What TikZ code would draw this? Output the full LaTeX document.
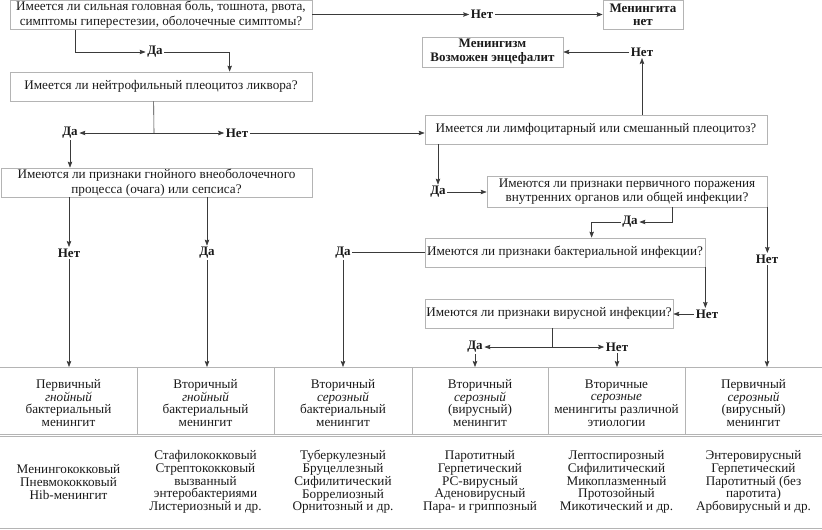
\documentclass[tikz,border=0pt]{standalone}
\usepackage{fontspec}
\setmainfont{Liberation Serif}
\usetikzlibrary{arrows.meta}
\definecolor{boxgray}{HTML}{B4B4B4}
\definecolor{linegray}{HTML}{3A3A3A}
\definecolor{txt}{HTML}{1A1A1A}
\begin{document}
\begin{tikzpicture}[x=1pt,y=-1pt,
  every node/.style={text=txt},
  base/.style={font=\fontsize{13.2}{12.7}\selectfont},
  qbox/.style={base,draw=boxgray,line width=0.7pt,inner sep=0pt,align=center},
  lbl/.style={font=\fontsize{13}{13}\selectfont\bfseries,inner sep=1.5pt},
  cell/.style={base,align=center,inner sep=0pt},
  arr/.style={draw=linegray,line width=0.6pt,-{Stealth[length=6pt,width=4.5pt,inset=1pt]}},
  ln/.style={draw=linegray,line width=0.6pt},
  tl/.style={draw=boxgray,line width=0.7pt}]
\useasboundingbox (0,0) rectangle (822,530);
% boxes
\node[qbox,minimum width=302pt,minimum height=28.5pt,font=\fontsize{13.2}{15}\selectfont] (box1) at (161,15) {Имеется ли сильная головная боль, тошнота, рвота,\\симптомы гиперестезии, оболочечные симптомы?};
\node[qbox,minimum width=80pt,minimum height=28.5pt,font=\fontsize{13}{13.5}\selectfont\bfseries] (mnet) at (643,15) {Менингита\\нет};
\node[qbox,minimum width=302pt,minimum height=29pt] (box2) at (161,86.5) {Имеется ли нейтрофильный плеоцитоз ликвора?};
\node[qbox,minimum width=141pt,minimum height=30pt,font=\fontsize{13}{14}\selectfont\bfseries] (mism) at (492.5,52) {Менингизм\\Возможен энцефалит};
\node[qbox,minimum width=342pt,minimum height=29pt] (lymph) at (596,129.5) {Имеется ли лимфоцитарный или смешанный плеоцитоз?};
\node[qbox,minimum width=311pt,minimum height=29pt,font=\fontsize{13.2}{14.5}\selectfont] (box3) at (156.5,182.5) {Имеются ли признаки гнойного внеоболочечного\\процесса (очага) или сепсиса?};
\node[qbox,minimum width=280pt,minimum height=31pt,font=\fontsize{13.2}{14.5}\selectfont] (prim) at (627,191.5) {Имеются ли признаки первичного поражения\\внутренних органов или общей инфекции?};
\node[qbox,minimum width=280pt,minimum height=29pt] (bact) at (565,252.5) {Имеются ли признаки бактериальной инфекции?};
\node[qbox,minimum width=248pt,minimum height=29pt] (viral) at (549,313.5) {Имеются ли признаки вирусной инфекции?};
% labels
\node[lbl] (netA) at (482,14.5) {Нет};
\node[lbl] (daA) at (155,52) {Да};
\node[lbl] (daB) at (70,133) {Да};
\node[lbl] (netB) at (237,133) {Нет};
\node[lbl] (netC) at (642,52) {Нет};
\node[lbl] (daC) at (438,192) {Да};
\node[lbl] (daD) at (630,222) {Да};
\node[lbl] (netD) at (767,259) {Нет};
\node[lbl] (daE) at (343,252.5) {Да};
\node[lbl] (netE) at (707,314) {Нет};
\node[lbl] (daF) at (475,347) {Да};
\node[lbl] (netF) at (617,347) {Нет};
\node[lbl] (netG) at (69,253) {Нет};
\node[lbl] (daG) at (207,253) {Да};
% table
\coordinate (tt) at (0,367);
\coordinate (j1) at (154,133);
\coordinate (j2) at (552,347);
\draw[tl] (0,367) -- (822,367);
\foreach \x in {137,274,412,548,685} \draw[tl] (\x,367) -- (\x,434);
\draw[tl] (0,434) -- (822,434);
\draw[tl] (0,436.5) -- (822,436.5);
\draw[tl] (0,528) -- (822,528);
\node[cell] (r1) at (68.5,403) {Первичный\\\textit{гнойный}\\бактериальный\\менингит};
\node[cell] (r2) at (205.5,403) {Вторичный\\\textit{гнойный}\\бактериальный\\менингит};
\node[cell] (r3) at (343,403) {Вторичный\\\textit{серозный}\\бактериальный\\менингит};
\node[cell] (r4) at (480,403) {Вторичный\\\textit{серозный}\\(вирусный)\\менингит};
\node[cell] (r5) at (616.5,403) {Вторичные\\\textit{серозные}\\менингиты различной\\этиологии};
\node[cell] (r6) at (753.5,403) {Первичный\\\textit{серозный}\\(вирусный)\\менингит};
\node[cell] (s1) at (68.5,482) {Менингококковый\\Пневмококковый\\Hib-менингит};
\node[cell] (s2) at (205.5,482) {Стафилококковый\\Стрептококковый\\вызванный\\энтеробактериями\\Листериозный и др.};
\node[cell] (s3) at (343,482) {Туберкулезный\\Бруцеллезный\\Сифилитический\\Боррелиозный\\Орнитозный и др.};
\node[cell] (s4) at (480,482) {Паротитный\\Герпетический\\РС-вирусный\\Аденовирусный\\Пара- и гриппозный};
\node[cell] (s5) at (616.5,482) {Лептоспирозный\\Сифилитический\\Микоплазменный\\Протозойный\\Микотический и др.};
\node[cell] (s6) at (753.5,482) {Энтеровирусный\\Герпетический\\Паротитный (без\\паротита)\\Арбовирусный и др.};
% connectors
\draw[arr] (box1.east |- netA) -- (netA.west);
\draw[arr] (netA.east) -- (mnet.west |- netA);
\draw[arr] ([xshift=66pt]box1.south west) |- (daA.west);
\draw[arr] (daA.east) -| ([xshift=220pt]box2.north west);
\draw[ln] ([xshift=144pt]box2.south west) -- (j1);
\draw[arr] (j1) -- (daB.east);
\draw[arr] (j1) -- (netB.west);
\draw[arr] (netB.east) -- (lymph.west |- netB);
\draw[arr] (lymph.north -| netC) -- (netC.south);
\draw[arr] (netC.west) -- (mism.east |- netC);
\draw[arr] (lymph.south -| daC) -- (daC.north);
\draw[arr] (daC.east) -- (prim.west |- daC);
\draw[arr] ([xshift=186pt]prim.south west) |- (daD.east);
\draw[arr] (daD.west) -| ([xshift=167pt]bact.north west);
\draw[arr] (prim.south east) -- (prim.south east |- netD.north);
\draw[arr] (netD.south) -- (netD.south |- tt);
\draw[ln] (bact.west) -- (daE.east);
\draw[arr] (daE.south) -- (daE.south |- tt);
\draw[arr] (bact.south east) -- (bact.south east |- netE.north);
\draw[arr] (netE.west) -- (viral.east |- netE);
\draw[ln] (viral.south -| j2) -- (j2);
\draw[arr] (j2) -- (daF.east);
\draw[arr] (j2) -- (netF.west);
\draw[arr] (daF.south) -- (daF.south |- tt);
\draw[arr] (netF.south) -- (netF.south |- tt);
\draw[arr] (daB.south) -- (daB.south |- box3.north);
\draw[arr] (box3.south -| netG) -- (netG.north);
\draw[arr] (box3.south -| daG) -- (daG.north);
\draw[arr] (netG.south) -- (netG.south |- tt);
\draw[arr] (daG.south) -- (daG.south |- tt);
\end{tikzpicture}
\end{document}
